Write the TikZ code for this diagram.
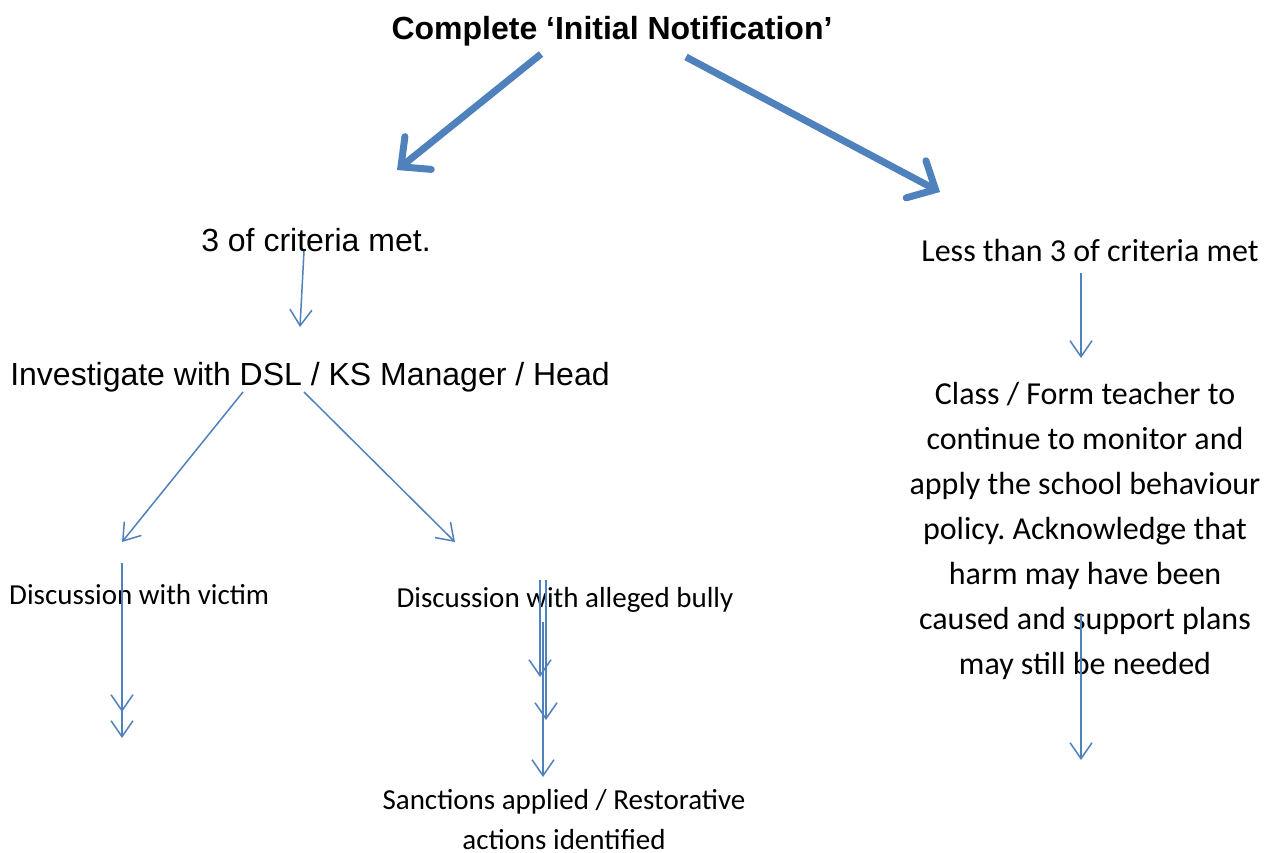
\documentclass[tikz,border=0pt]{standalone}
\usepackage{fontspec}
\setmainfont{Liberation Sans}
\newfontfamily\carlitofont{Carlito}
\usetikzlibrary{arrows.meta}
\definecolor{arrowblue}{HTML}{4F81BD}
\frenchspacing
\tikzset{
  lbl/.style={inner sep=0pt, anchor=base, text=black},
  arial/.style={lbl, font=\fontsize{32}{38}\selectfont},
  calibri/.style={lbl, font=\carlitofont\fontsize{32}{45}\selectfont},
  calsmall/.style={lbl, font=\carlitofont\fontsize{29}{40}\selectfont},
  thick arrow/.style={draw=arrowblue, line width=7pt, line join=round, -{Straight Barb[length=22pt,width=42pt,line cap=round]}},
  thin arrow/.style={draw=arrowblue, line width=1.5pt, -{Straight Barb[length=16pt,width=22pt]}}
}
\begin{document}
\begin{tikzpicture}[x=1pt,y=-1pt]
\useasboundingbox (0,0) rectangle (1282,852);
\fill[white] (0,0) rectangle (1282,852);

\node[arial, font=\bfseries\fontsize{32}{38}\selectfont] (title) at (612,39) {Complete ‘Initial Notification’};
\node[arial] (three) at (316,251) {3 of criteria met.};
\node[arial] (invest) at (310,385) {Investigate with DSL / KS Manager / Head};
\node[calibri] (less) at (1090,261) {Less than 3 of criteria met};
\node[calibri, anchor=base, align=center] (cls) at (1085,674) {Class / Form teacher to\\continue to monitor and\\apply the school behaviour\\policy. Acknowledge that\\harm may have been\\caused and support plans\\may still be needed};
\node[calsmall, anchor=base west] (victim) at (9,604) {Discussion with victim};
\node[calsmall] (bully) at (565,607) {Discussion with alleged bully};
\node[calsmall, align=center] (sanct) at (564,849) {Sanctions applied / Restorative\\actions identified};

% coordinates for connectors
\coordinate (tL0) at (541,54);  \coordinate (tL1) at (397,170);
\coordinate (tR0) at (686,57);  \coordinate (tR1) at (940,192);
\coordinate (c0) at (304,251);  \coordinate (c1) at (300,327);
\coordinate (iL0) at (243,392); \coordinate (iL1) at (122,542);
\coordinate (iR0) at (304,392); \coordinate (iR1) at (455,542);
\coordinate (v0) at (122,563);  \coordinate (v1) at (122,712); \coordinate (v2) at (122,738);
\coordinate (b0) at (540,580);  \coordinate (b1) at (540,677);
\coordinate (b2) at (546,580);  \coordinate (b3) at (546,720);
\coordinate (b4) at (543,622);  \coordinate (b5) at (543,777);
\coordinate (r0) at (1081,273); \coordinate (r1) at (1081,358);
\coordinate (r2) at (1081,615); \coordinate (r3) at (1081,760);

\draw[thick arrow] (tL0) -- (tL1);
\draw[thick arrow] (tR0) -- (tR1);
\draw[thin arrow] (c0) -- (c1);
\draw[thin arrow] (iL0) -- (iL1);
\draw[thin arrow] (iR0) -- (iR1);
\draw[thin arrow] (v0) -- (v1);
\draw[thin arrow] (v0) -- (v2);
\draw[thin arrow] (b0) -- (b1);
\draw[thin arrow] (b2) -- (b3);
\draw[thin arrow] (b4) -- (b5);
\draw[thin arrow] (r0) -- (r1);
\draw[thin arrow] (r2) -- (r3);
\end{tikzpicture}
\end{document}
